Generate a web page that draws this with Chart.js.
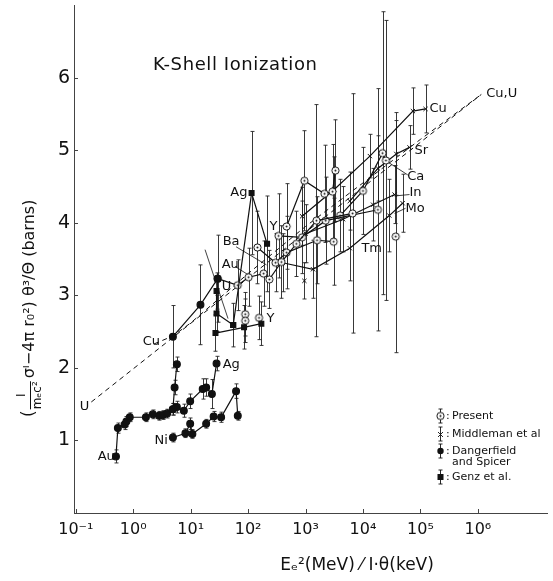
<!DOCTYPE html>
<html>
<head>
<meta charset="utf-8">
<script src="https://cdn.jsdelivr.net/npm/chart.js@4.4.0/dist/chart.umd.min.js"></script>
<style>
  html, body { margin: 0; padding: 0; background: #fff; }
</style>
</head>
<body>
<canvas id="chart" width="553" height="581"></canvas>
<script>
// axis ticks
const xTicks = [0.1, 1, 10, 100, 1000, 10000, 100000, 1000000];
const xTickLabels = ['10⁻¹', '10⁰', '10¹', '10²', '10³', '10⁴', '10⁵', '10⁶'];
const yTicks = [1, 2, 3, 4, 5, 6];
const yTickLabels = ['1', '2', '3', '4', '5', '6'];

// Dangerfield and Spicer (filled circles)
const dangAuX = [0.50, 0.54, 0.71, 0.76, 0.87, 1.66, 2.19, 2.82, 3.31, 3.89, 4.9, 5.75, 7.6, 9.8, 16.2, 18.6, 23.4, 28.2];
const dangAuY = [0.78, 1.17, 1.22, 1.26, 1.32, 1.32, 1.36, 1.34, 1.35, 1.37, 1.43, 1.46, 1.41, 1.54, 1.71, 1.73, 1.64, 2.06];
const dangAuE = [0.09, 0.07, 0.07, 0.07, 0.06, 0.06, 0.06, 0.06, 0.06, 0.06, 0.08, 0.08, 0.09, 0.10, 0.14, 0.12, 0.20, 0.10];
const dangAgX = [4.9, 5.25, 5.75];
const dangAgY = [1.43, 1.73, 2.05];
const dangAgE = [0.08, 0.10, 0.10];
const dangNiX = [4.9, 8.1, 9.8, 10.7, 18.6, 25.1, 33.9, 61.7, 66.1];
const dangNiY = [1.04, 1.10, 1.23, 1.09, 1.23, 1.33, 1.32, 1.68, 1.34];
const dangNiE = [0.06, 0.06, 0.08, 0.06, 0.06, 0.07, 0.07, 0.10, 0.06];
const dangCuX = [4.9, 14.8, 29.5];
const dangCuY = [2.43, 2.87, 3.23];
const dangCuE = [0.43, 0.55, 0.60];

// Genz et al. (filled squares)
const genzUX = [29.5, 28.2, 28.2, 55];
const genzUY = [3.23, 3.06, 2.75, 2.59];
const genzUE = [0, 0.25, 0.25, 0.30];
const genzAgX = [55, 115, 214];
const genzAgY = [2.59, 4.41, 3.71];
const genzAgE = [0, 0.85, 0.66];
const genzYX = [27, 85, 170];
const genzYY = [2.48, 2.56, 2.61];
const genzYE = [0.25, 0.30, 0.30];

// Present (dotted circles)
const presAuX = [29.5, 66, 102, 186, 234, 380, 692, 1550, 6600];
const presAuY = [3.23, 3.14, 3.25, 3.30, 3.22, 3.46, 3.71, 4.03, 4.13];
const presAuE = [0, 0.35, 0.40, 0.45, 0.40, 0.50, 0.45, 1.60, 1.65];
const presBaX = [145, 300, 468, 1585, 3090];
const presBaY = [3.66, 3.45, 3.59, 3.76, 3.74];
const presBaE = [0.50, 0.40, 0.50, 0.60, 0.60];
const presYX = [339, 871, 2240, 18200];
const presYY = [3.82, 3.80, 4.03, 4.18];
const presYE = [0.58, 0.50, 0.60, 1.67];
const presMidX = [468, 955, 2140, 2950, 3310];
const presMidY = [3.95, 4.58, 4.40, 4.43, 4.72];
const presMidE = [0.59, 0.69, 0.67, 0.65, 0.70];
const presCaX = [4000, 10000, 21900, 25100];
const presCaY = [4.10, 4.44, 4.96, 4.86];
const presCaE = [0.50, 0.60, 1.95, 1.93];
const presLoneX = [37200, 89, 89, 155];
const presLoneY = [3.81, 2.74, 2.65, 2.69];
const presLoneE = [1.60, 0.30, 0.30, 0.30];

// Middleman et al (crosses)
const midCuX = [871, 3160, 13200, 74100, 123000];
const midCuY = [4.09, 4.46, 4.92, 5.54, 5.57];
const midCuE = [0.40, 0.45, 0.30, 0.32, 0.33];
const midSrX = [5890, 18200, 38000, 64600];
const midSrY = [4.30, 4.75, 4.95, 5.04];
const midSrE = [0.40, 0.45, 0.57, 0.30];
const midInX = [1000, 4500, 15000, 35500];
const midInY = [3.85, 4.05, 4.25, 4.39];
const midInE = [0.40, 0.45, 0.50, 0.40];
const midTmX = [400, 1350, 5900, 28800, 49000];
const midTmY = [3.45, 3.36, 3.65, 4.10, 4.27];
const midTmE = [0.40, 0.40, 0.45, 0.50, 0.40];
const midLoneX = [955];
const midLoneY = [3.20];
const midLoneE = [0.25];

// theory curves (dashed)
const theoUX = [0.186, 4.9, 100, 1000, 10000, 100000, 1150000];
const theoUY = [1.53, 2.42, 3.24, 3.87, 4.49, 5.11, 5.77];
const theoCuX = [2.3, 4.9, 10, 100, 1000, 10000, 100000, 1150000];
const theoCuY = [2.33, 2.44, 2.62, 3.30, 3.95, 4.55, 5.15, 5.77];

// leader lines from labels to their points
const leaderX = [[61.7, 209], [58.9, 107], [60300, 25700], [64600, 35500], [55000, 35500], [17.8, 44.7]];
const leaderY = [[3.67, 3.42], [3.40, 3.27], [4.66, 4.85], [4.39, 4.37], [4.20, 4.13], [3.63, 2.68]];

// element labels (left edge, data coords)
const labelText = ['Au', 'Ni', 'Ag', 'Cu', 'U', 'Y', 'U', 'Au', 'Ba', 'Y', 'Ag', 'Tm', 'Mo', 'In', 'Ca', 'Sr', 'Cu', 'Cu,U'];
const labelX = [0.24, 2.35, 36, 1.46, 0.117, 209, 34.7, 34.7, 36, 236, 49, 9400, 55000, 64600, 59000, 79000, 144000, 1400000];
const labelY = [0.78, 1.00, 2.05, 2.36, 1.47, 2.68, 3.12, 3.43, 3.74, 3.95, 4.42, 3.65, 4.20, 4.41, 4.64, 5.00, 5.57, 5.78];

const FONT = "'DejaVu Sans', sans-serif";
const INK = '#111';

// circle with a dot for "Present"
function makeDotCircle(r) {
    const c = document.createElement('canvas');
    const s = Math.ceil(r * 2 + 3);
    c.width = s; c.height = s;
    const g = c.getContext('2d');
    g.fillStyle = '#fff';
    g.strokeStyle = INK;
    g.lineWidth = 1;
    g.beginPath(); g.arc(s / 2, s / 2, r, 0, Math.PI * 2); g.fill(); g.stroke();
    g.fillStyle = INK;
    g.beginPath(); g.arc(s / 2, s / 2, 1, 0, Math.PI * 2); g.fill();
    return c;
}
const dotCircle = makeDotCircle(3.6);

function zip(xs, ys) {
    return xs.map((x, i) => ({ x: x, y: ys[i] }));
}

const styles = {
    dang: { pointStyle: 'circle', pointRadius: 3.4, pointBackgroundColor: INK, pointBorderColor: INK },
    genz: { pointStyle: 'rect', pointRadius: 3.4, pointBackgroundColor: INK, pointBorderColor: INK },
    pres: { pointStyle: dotCircle, pointRadius: 4 },
    mid: { pointStyle: 'crossRot', pointRadius: 3, pointBorderColor: INK, pointBorderWidth: 1 }
};

function series(xs, ys, es, kind, line = true) {
    return Object.assign({
        data: zip(xs, ys),
        errs: es,
        showLine: line,
        borderColor: INK,
        borderWidth: 1.2,
        tension: 0
    }, styles[kind]);
}

const datasets = [
    series(dangAuX, dangAuY, dangAuE, 'dang'),
    series(dangAgX, dangAgY, dangAgE, 'dang'),
    series(dangNiX, dangNiY, dangNiE, 'dang'),
    series(dangCuX, dangCuY, dangCuE, 'dang'),
    series(genzUX, genzUY, genzUE, 'genz'),
    series(genzAgX, genzAgY, genzAgE, 'genz'),
    series(genzYX, genzYY, genzYE, 'genz'),
    series(presAuX, presAuY, presAuE, 'pres'),
    series(presBaX, presBaY, presBaE, 'pres'),
    series(presYX, presYY, presYE, 'pres'),
    series(presMidX, presMidY, presMidE, 'pres'),
    series(presCaX, presCaY, presCaE, 'pres'),
    series(presLoneX, presLoneY, presLoneE, 'pres', false),
    series(midCuX, midCuY, midCuE, 'mid'),
    series(midSrX, midSrY, midSrE, 'mid'),
    series(midInX, midInY, midInE, 'mid'),
    series(midTmX, midTmY, midTmE, 'mid'),
    series(midLoneX, midLoneY, midLoneE, 'mid', false),
    { data: zip(theoUX, theoUY), showLine: true, pointRadius: 0, borderColor: INK, borderWidth: 1, borderDash: [5, 4] },
    { data: zip(theoCuX, theoCuY), showLine: true, pointRadius: 0, borderColor: INK, borderWidth: 1, borderDash: [5, 4] }
];
leaderX.forEach((xs, i) => {
    datasets.push({ data: zip(xs, leaderY[i]), showLine: true, pointRadius: 0, borderColor: INK, borderWidth: 0.8 });
});

// vertical error bars, drawn under the markers
const errorBars = {
    id: 'errorBars',
    beforeDatasetsDraw(chart) {
        const { ctx, chartArea: a, scales: { x, y } } = chart;
        ctx.save();
        ctx.beginPath(); ctx.rect(a.left, a.top, a.right - a.left, a.bottom - a.top); ctx.clip();
        ctx.strokeStyle = '#222';
        ctx.lineWidth = 0.9;
        chart.data.datasets.forEach(ds => {
            if (!ds.errs) return;
            ds.data.forEach((p, i) => {
                const e = ds.errs[i];
                if (!e) return;
                const px = Math.round(x.getPixelForValue(p.x)) + 0.5;
                const lo = y.getPixelForValue(p.y - e);
                const hi = y.getPixelForValue(p.y + e);
                ctx.beginPath();
                ctx.moveTo(px, lo); ctx.lineTo(px, hi);
                ctx.moveTo(px - 2, lo); ctx.lineTo(px + 2, lo);
                ctx.moveTo(px - 2, hi); ctx.lineTo(px + 2, hi);
                ctx.stroke();
            });
        });
        ctx.restore();
    }
};

// element names, inward ticks, titles and the key
const decorations = {
    id: 'decorations',
    afterDraw(chart) {
        const { ctx, chartArea: a, scales: { x, y } } = chart;
        ctx.save();
        ctx.fillStyle = INK;
        ctx.strokeStyle = '#444';
        ctx.lineWidth = 1;

        // inward tick marks
        yTicks.forEach(v => {
            const py = Math.round(y.getPixelForValue(v)) + 0.5;
            ctx.beginPath(); ctx.moveTo(a.left, py); ctx.lineTo(a.left + 4, py); ctx.stroke();
        });
        xTicks.forEach(v => {
            const px = Math.round(x.getPixelForValue(v)) + 0.5;
            ctx.beginPath(); ctx.moveTo(px, a.bottom); ctx.lineTo(px, a.bottom - 4); ctx.stroke();
        });

        // element labels
        ctx.font = `13px ${FONT}`;
        ctx.textAlign = 'left';
        ctx.textBaseline = 'middle';
        labelText.forEach((t, i) => {
            ctx.fillText(t, x.getPixelForValue(labelX[i]), y.getPixelForValue(labelY[i]));
        });

        // plot title
        ctx.font = `18px ${FONT}`;
        ctx.letterSpacing = '0.6px';
        ctx.fillText('K-Shell Ionization', 153, 65);
        ctx.letterSpacing = '0px';

        // x axis title
        ctx.textAlign = 'center';
        ctx.font = `17px ${FONT}`;
        ctx.fillText('Eₑ²(MeV) ⁄ I·θ(keV)', 357, 566);

        // y axis title, rotated, with the I over mₑc² fraction
        ctx.save();
        ctx.translate(30, 272);
        ctx.rotate(-Math.PI / 2);
        ctx.textAlign = 'left';
        let cx = -145;
        ctx.font = `17px ${FONT}`;
        ctx.fillText('(', cx, 0);
        cx += ctx.measureText('(').width + 1;
        ctx.font = `12px ${FONT}`;
        const fw = ctx.measureText('mₑc²').width;
        ctx.textAlign = 'center';
        ctx.fillText('I', cx + fw / 2, -8);
        ctx.fillText('mₑc²', cx + fw / 2, 8);
        ctx.beginPath(); ctx.moveTo(cx, 0.5); ctx.lineTo(cx + fw, 0.5); ctx.strokeStyle = INK; ctx.stroke();
        cx += fw + 3;
        ctx.textAlign = 'left';
        ctx.font = `16px ${FONT}`;
        ctx.fillText('σᴵ−4π r₀²) θ³/Θ (barns)', cx, 0);
        ctx.restore();

        // key
        const kx = 440;
        const rows = [
            { ty: [416], words: ['Present'], kind: 'pres' },
            { ty: [434], words: ['Middleman et al'], kind: 'mid' },
            { ty: [451, 462], words: ['Dangerfield', 'and Spicer'], kind: 'dang' },
            { ty: [477], words: ['Genz et al.'], kind: 'genz' }
        ];
        ctx.font = `11px ${FONT}`;
        ctx.textAlign = 'left';
        ctx.textBaseline = 'middle';
        rows.forEach(r => {
            const sy = r.ty[0];
            ctx.strokeStyle = INK; ctx.lineWidth = 0.9;
            ctx.beginPath(); ctx.moveTo(kx + 0.5, sy - 7); ctx.lineTo(kx + 0.5, sy + 7);
            ctx.moveTo(kx - 1.5, sy - 7); ctx.lineTo(kx + 2.5, sy - 7);
            ctx.moveTo(kx - 1.5, sy + 7); ctx.lineTo(kx + 2.5, sy + 7); ctx.stroke();
            if (r.kind === 'pres') {
                ctx.drawImage(dotCircle, kx + 0.5 - dotCircle.width / 2, sy - dotCircle.height / 2);
            } else if (r.kind === 'mid') {
                ctx.beginPath(); ctx.moveTo(kx - 2, sy - 2); ctx.lineTo(kx + 3, sy + 3);
                ctx.moveTo(kx + 3, sy - 2); ctx.lineTo(kx - 2, sy + 3); ctx.stroke();
            } else if (r.kind === 'dang') {
                ctx.beginPath(); ctx.arc(kx + 0.5, sy, 3.2, 0, Math.PI * 2); ctx.fill();
            } else {
                ctx.fillRect(kx - 2.5, sy - 3, 6, 6);
            }
            ctx.fillText(':', kx + 6, sy);
            r.words.forEach((w, i) => ctx.fillText(w, kx + 12, r.ty[i]));
        });
        ctx.restore();
    }
};

new Chart(document.getElementById('chart'), {
    type: 'scatter',
    data: { datasets: datasets },
    options: {
        responsive: false,
        animation: false,
        layout: { padding: { left: 0, right: 6, top: 0, bottom: 0 } },
        plugins: { legend: { display: false }, tooltip: { enabled: false } },
        elements: { line: { fill: false } },
        scales: {
            x: {
                type: 'logarithmic',
                min: 0.093,
                max: 1.6e7,
                afterBuildTicks: s => { s.ticks = xTicks.map(v => ({ value: v })); },
                afterFit: s => { s.height = 68; s.paddingLeft = 0; s.paddingRight = 0; },
                grid: { display: false, drawTicks: false },
                border: { display: true, color: '#444', width: 1 },
                ticks: {
                    autoSkip: false,
                    maxRotation: 0,
                    padding: 7,
                    color: INK,
                    font: { family: FONT, size: 16 },
                    callback: (v, i) => xTickLabels[i]
                }
            },
            y: {
                min: 0,
                max: 7,
                afterBuildTicks: s => { s.ticks = yTicks.map(v => ({ value: v })); },
                afterFit: s => { s.width = 74; s.paddingTop = 0; s.paddingBottom = 0; },
                grid: { display: false, drawTicks: false },
                border: { display: true, color: '#444', width: 1 },
                ticks: {
                    padding: 4,
                    color: INK,
                    font: { family: FONT, size: 19 },
                    callback: (v, i) => yTickLabels[i]
                }
            }
        }
    },
    plugins: [errorBars, decorations]
});
</script>
</body>
</html>
